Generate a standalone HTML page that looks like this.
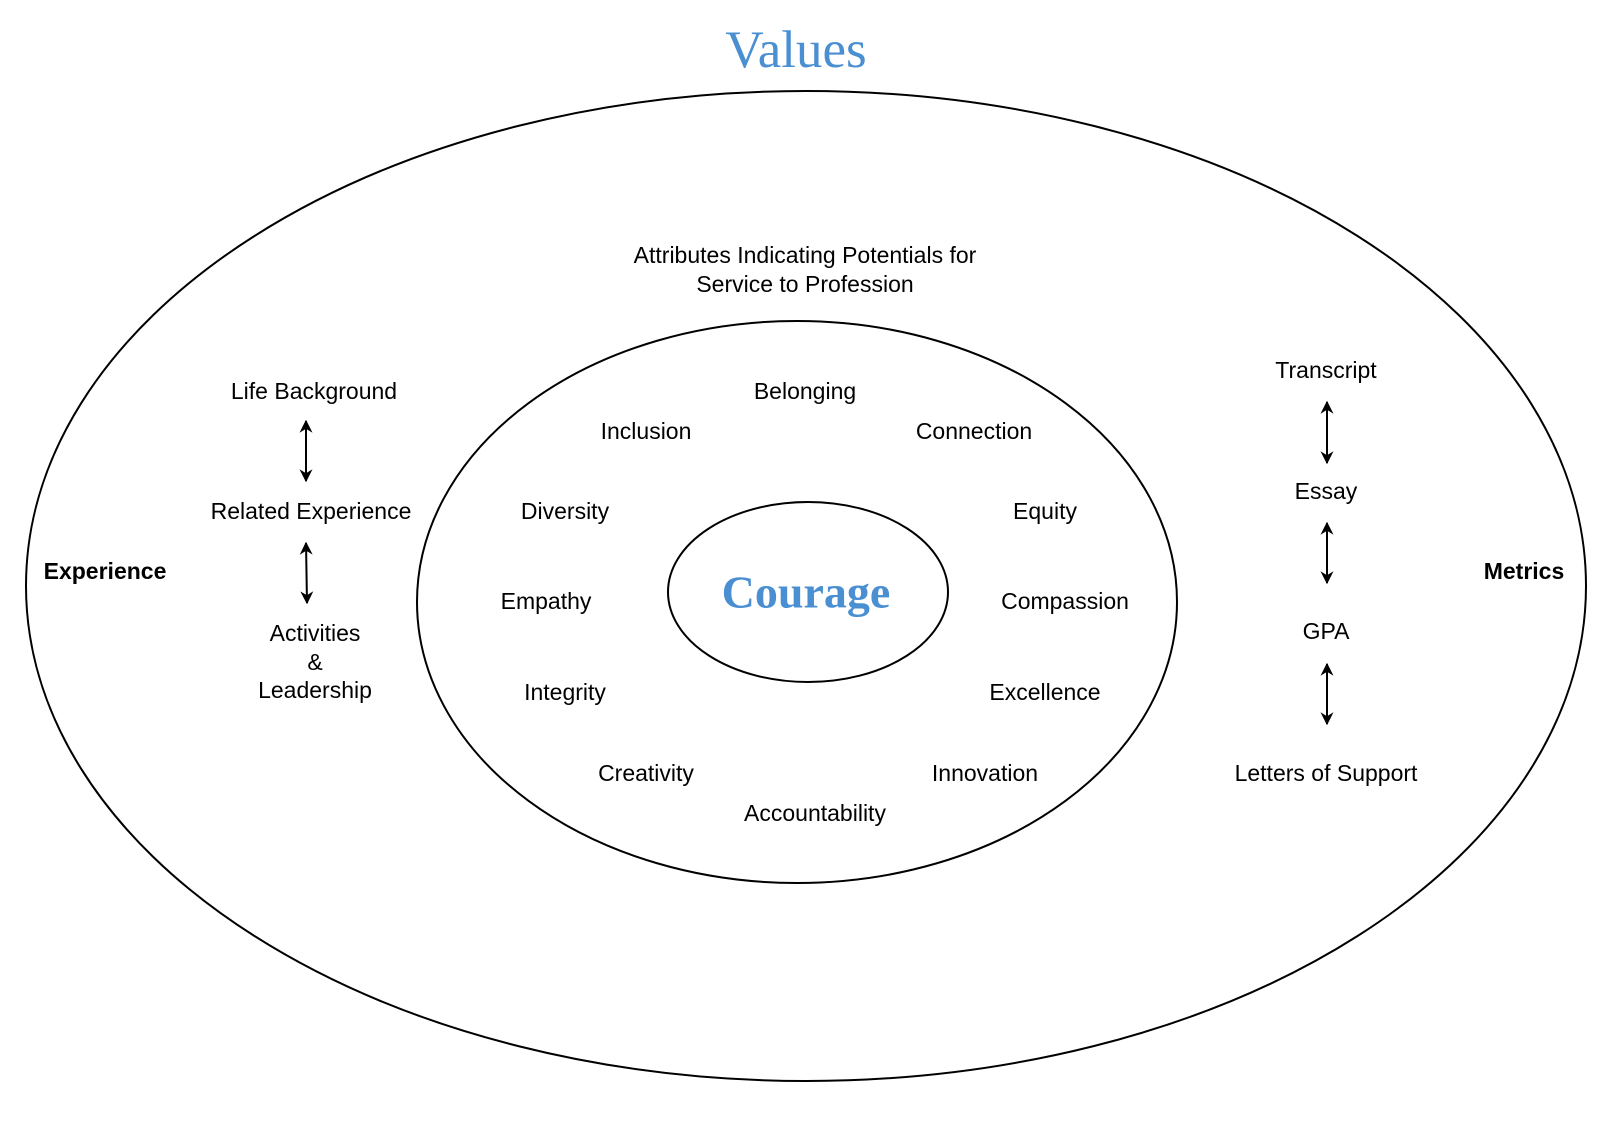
<!DOCTYPE html>
<html><head><meta charset="utf-8"><style>
html,body{margin:0;padding:0;background:#fff}
svg{display:block}
text{font-family:"Liberation Sans",sans-serif;font-size:23px;fill:#000;text-anchor:middle;dominant-baseline:central}
</style></head><body>
<svg width="1612" height="1146" viewBox="0 0 1612 1146" xmlns="http://www.w3.org/2000/svg">
<defs><marker id="a" viewBox="0 0 10 10" refX="9" refY="5" markerWidth="14" markerHeight="13" orient="auto-start-reverse" markerUnits="userSpaceOnUse"><path d="M0,0 L10,5 L0,10 L3,5 z" fill="#000"/></marker></defs>
<ellipse cx="806" cy="586" rx="780" ry="495" fill="none" stroke="#000" stroke-width="2"/>
<ellipse cx="797" cy="602" rx="380" ry="281" fill="none" stroke="#000" stroke-width="2"/>
<ellipse cx="808" cy="592" rx="140" ry="90" fill="none" stroke="#000" stroke-width="2"/>
<text x="796" y="50" style="font-family:'Liberation Serif',serif;font-size:53px;fill:#4a8fd1">Values</text>
<text x="806" y="592" style="font-family:'Liberation Serif',serif;font-size:46px;font-weight:bold;fill:#4a8fd1">Courage</text>
<text x="805" y="255">Attributes Indicating Potentials for</text>
<text x="805" y="284">Service to Profession</text>
<text x="314" y="391">Life Background</text>
<text x="311" y="511">Related Experience</text>
<text x="315" y="633">Activities</text>
<text x="315" y="662">&amp;</text>
<text x="315" y="690">Leadership</text>
<text x="105" y="571" style="font-weight:bold">Experience</text>
<text x="1524" y="571" style="font-weight:bold">Metrics</text>
<text x="1326" y="370">Transcript</text>
<text x="1326" y="491">Essay</text>
<text x="1326" y="631">GPA</text>
<text x="1326" y="773">Letters of Support</text>
<text x="805" y="391">Belonging</text>
<text x="646" y="431">Inclusion</text>
<text x="974" y="431">Connection</text>
<text x="565" y="511">Diversity</text>
<text x="1045" y="511">Equity</text>
<text x="546" y="601">Empathy</text>
<text x="1065" y="601">Compassion</text>
<text x="565" y="692">Integrity</text>
<text x="1045" y="692">Excellence</text>
<text x="646" y="773">Creativity</text>
<text x="985" y="773">Innovation</text>
<text x="815" y="813">Accountability</text>
<g stroke="#000" stroke-width="2" marker-start="url(#a)" marker-end="url(#a)">
<line x1="306" y1="421" x2="306" y2="481"/>
<line x1="306" y1="543" x2="307" y2="603"/>
<line x1="1327" y1="402" x2="1327" y2="463"/>
<line x1="1327" y1="523" x2="1327" y2="583"/>
<line x1="1327" y1="664" x2="1327" y2="724"/>
</g>
</svg>
</body></html>
